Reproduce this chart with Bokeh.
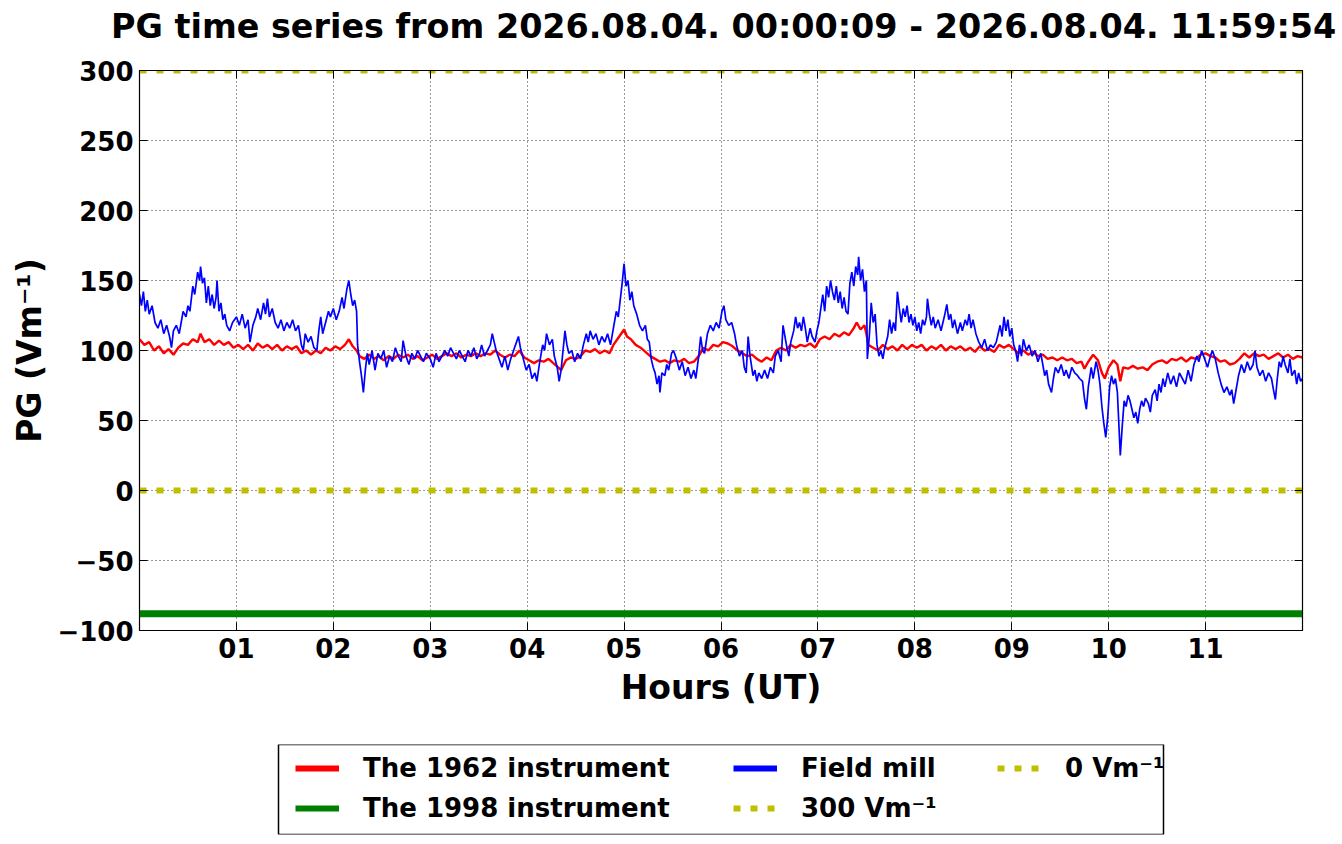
import numpy as np
from bokeh.plotting import figure
from bokeh.layouts import column
from bokeh.models import FixedTicker, Legend, LegendItem, Range1d, BoxAnnotation, LinearAxis, Div
from bokeh.embed import file_html
from bokeh.resources import INLINE

TITLE = "PG time series from 2026.08.04. 00:00:09 - 2026.08.04. 11:59:54"
X_LABEL = "Hours (UT)"
Y_LABEL = "PG (Vm\u207b\u00b9)"

x_ticks = [1, 2, 3, 4, 5, 6, 7, 8, 9, 10, 11]
x_tick_labels = ["01", "02", "03", "04", "05", "06", "07", "08", "09", "10", "11"]
y_ticks = [-100, -50, 0, 50, 100, 150, 200, 250, 300]
y_tick_labels = ["\u2212100", "\u221250", "0", "50", "100", "150", "200", "250", "300"]

series_names = ["The 1962 instrument", "The 1998 instrument", "Field mill",
                "300 Vm\u207b\u00b9", "0 Vm\u207b\u00b9"]

# Field mill (blue) : hours, PG values
fm_hours = [
    0.00, 0.02, 0.04, 0.06, 0.08, 0.10, 0.13, 0.16, 0.19, 0.22, 0.25, 0.28, 0.31, 0.33, 0.35, 0.38,
    0.41, 0.43, 0.45, 0.48, 0.50, 0.52, 0.55, 0.57, 0.60, 0.62, 0.63, 0.65, 0.67, 0.69, 0.71, 0.73,
    0.75, 0.77, 0.79, 0.80, 0.82, 0.84, 0.86, 0.88, 0.90, 0.93, 0.96, 1.00, 1.03, 1.06, 1.09, 1.12,
    1.14, 1.17, 1.20, 1.22, 1.25, 1.28, 1.30, 1.32, 1.34, 1.37, 1.40, 1.43, 1.46, 1.49, 1.52, 1.55,
    1.58, 1.61, 1.64, 1.67, 1.69, 1.71, 1.74, 1.77, 1.80, 1.83, 1.85, 1.87, 1.89, 1.92, 1.95, 1.97,
    2.00, 2.03, 2.06, 2.09, 2.11, 2.14, 2.16, 2.18, 2.20, 2.22, 2.24, 2.25, 2.27, 2.29, 2.31, 2.33,
    2.35, 2.37, 2.40, 2.43, 2.46, 2.49, 2.52, 2.55, 2.58, 2.61, 2.64, 2.67, 2.70, 2.72, 2.75, 2.78,
    2.81, 2.84, 2.87, 2.90, 2.93, 2.96, 3.00, 3.03, 3.06, 3.09, 3.12, 3.15, 3.18, 3.21, 3.24, 3.27,
    3.30, 3.33, 3.36, 3.39, 3.42, 3.45, 3.48, 3.51, 3.53, 3.56, 3.59, 3.62, 3.64, 3.66, 3.68, 3.71,
    3.74, 3.77, 3.80, 3.83, 3.86, 3.89, 3.91, 3.93, 3.96, 3.99, 4.02, 4.05, 4.08, 4.10, 4.13, 4.16,
    4.18, 4.20, 4.23, 4.26, 4.28, 4.31, 4.33, 4.35, 4.37, 4.39, 4.41, 4.43, 4.46, 4.49, 4.52, 4.55,
    4.58, 4.61, 4.63, 4.65, 4.68, 4.71, 4.74, 4.77, 4.80, 4.83, 4.86, 4.88, 4.90, 4.92, 4.94, 4.96,
    4.98, 5.00, 5.02, 5.04, 5.06, 5.08, 5.10, 5.13, 5.16, 5.19, 5.22, 5.24, 5.26, 5.28, 5.30, 5.32,
    5.34, 5.36, 5.37, 5.39, 5.42, 5.44, 5.46, 5.49, 5.51, 5.54, 5.57, 5.60, 5.63, 5.66, 5.69, 5.72,
    5.74, 5.77, 5.79, 5.81, 5.83, 5.86, 5.89, 5.92, 5.95, 5.98, 6.01, 6.03, 6.05, 6.08, 6.11, 6.14,
    6.16, 6.19, 6.22, 6.24, 6.26, 6.28, 6.30, 6.33, 6.35, 6.37, 6.39, 6.42, 6.45, 6.48, 6.51, 6.54,
    6.56, 6.59, 6.62, 6.64, 6.66, 6.68, 6.70, 6.72, 6.75, 6.77, 6.79, 6.81, 6.83, 6.85, 6.87, 6.89,
    6.92, 6.94, 6.97, 6.99, 7.01, 7.03, 7.05, 7.07, 7.09, 7.11, 7.13, 7.15, 7.17, 7.19, 7.21, 7.23,
    7.25, 7.27, 7.29, 7.31, 7.33, 7.35, 7.37, 7.39, 7.41, 7.42, 7.44, 7.46, 7.48, 7.50, 7.51, 7.53,
    7.55, 7.57, 7.59, 7.61, 7.63, 7.65, 7.67, 7.69, 7.72, 7.74, 7.76, 7.78, 7.80, 7.82, 7.84, 7.86,
    7.88, 7.90, 7.92, 7.94, 7.96, 7.98, 8.00, 8.02, 8.04, 8.06, 8.08, 8.10, 8.12, 8.13, 8.15, 8.17,
    8.19, 8.21, 8.24, 8.27, 8.29, 8.31, 8.33, 8.35, 8.37, 8.39, 8.41, 8.44, 8.47, 8.49, 8.52, 8.54,
    8.56, 8.58, 8.60, 8.63, 8.66, 8.69, 8.72, 8.75, 8.78, 8.81, 8.84, 8.86, 8.88, 8.90, 8.92, 8.94,
    8.96, 8.98, 9.00, 9.02, 9.04, 9.06, 9.08, 9.10, 9.12, 9.15, 9.18, 9.21, 9.24, 9.27, 9.30, 9.32,
    9.34, 9.36, 9.38, 9.41, 9.43, 9.45, 9.48, 9.51, 9.54, 9.56, 9.59, 9.62, 9.65, 9.68, 9.70, 9.73,
    9.75, 9.77, 9.79, 9.82, 9.84, 9.87, 9.89, 9.91, 9.93, 9.95, 9.97, 9.99, 10.01, 10.03, 10.05, 10.07,
    10.09, 10.11, 10.12, 10.14, 10.16, 10.18, 10.20, 10.22, 10.24, 10.26, 10.28, 10.30, 10.32, 10.34, 10.36, 10.38,
    10.41, 10.43, 10.45, 10.48, 10.50, 10.52, 10.54, 10.56, 10.58, 10.61, 10.64, 10.67, 10.70, 10.73, 10.76, 10.79,
    10.82, 10.85, 10.88, 10.91, 10.93, 10.96, 10.99, 11.02, 11.05, 11.07, 11.10, 11.13, 11.16, 11.19, 11.22, 11.25,
    11.27, 11.29, 11.31, 11.34, 11.37, 11.40, 11.43, 11.46, 11.49, 11.51, 11.53, 11.56, 11.59, 11.62, 11.65, 11.68,
    11.70, 11.72, 11.74, 11.76, 11.78, 11.80, 11.82, 11.85, 11.87, 11.89, 11.92, 11.94, 11.96, 11.98, 12.00,
]
fm_values = [
    140, 132, 142, 128, 136, 126, 132, 120, 116, 122, 112, 118, 110, 102, 114, 118,
    112, 120, 128, 124, 132, 128, 146, 140, 156, 150, 160, 148, 152, 134, 146, 132,
    140, 130, 138, 150, 128, 134, 122, 126, 118, 114, 120, 124, 118, 126, 116, 122,
    106, 118, 124, 130, 122, 134, 126, 137, 124, 130, 120, 116, 122, 114, 120, 116,
    122, 114, 118, 104, 100, 112, 106, 110, 102, 100, 114, 124, 112, 120, 128, 124,
    130, 122, 128, 138, 130, 144, 150, 140, 132, 136, 128, 104, 92, 82, 70, 86,
    98, 90, 100, 86, 98, 94, 100, 88, 96, 92, 102, 96, 92, 107, 96, 90,
    98, 94, 100, 96, 92, 98, 94, 88, 98, 92, 96, 100, 96, 102, 98, 94,
    100, 96, 92, 100, 96, 102, 94, 98, 104, 96, 100, 104, 112, 106, 100, 94,
    88, 96, 86, 94, 100, 106, 110, 102, 94, 86, 90, 80, 84, 78, 92, 104,
    100, 112, 104, 108, 96, 88, 78, 86, 100, 114, 104, 98, 100, 92, 98, 94,
    104, 112, 106, 114, 108, 112, 104, 110, 106, 112, 104, 112, 120, 128, 124, 136,
    148, 162, 146, 150, 136, 142, 132, 126, 118, 114, 118, 108, 106, 94, 88, 84,
    76, 82, 70, 84, 82, 90, 86, 98, 100, 94, 86, 92, 82, 88, 80, 86,
    80, 96, 110, 100, 98, 112, 118, 114, 120, 116, 128, 132, 122, 118, 120, 112,
    104, 96, 100, 88, 84, 110, 96, 82, 86, 78, 84, 80, 86, 80, 88, 84,
    96, 100, 92, 118, 110, 102, 96, 106, 114, 124, 116, 120, 114, 124, 116, 106,
    116, 110, 106, 114, 120, 130, 140, 128, 146, 138, 150, 142, 136, 146, 134, 142,
    130, 138, 128, 126, 148, 156, 146, 160, 154, 167, 150, 158, 142, 150, 94, 110,
    134, 120, 126, 104, 96, 100, 94, 102, 110, 122, 112, 120, 114, 142, 130, 120,
    130, 124, 132, 120, 126, 118, 124, 114, 120, 112, 122, 118, 124, 137, 126, 118,
    124, 116, 122, 114, 120, 126, 133, 122, 126, 116, 122, 112, 120, 114, 122, 118,
    126, 116, 122, 112, 106, 102, 108, 100, 104, 102, 106, 112, 118, 110, 124, 114,
    122, 110, 116, 104, 100, 92, 104, 96, 108, 100, 104, 96, 100, 92, 98, 90,
    82, 86, 76, 70, 80, 88, 84, 90, 82, 86, 80, 88, 84, 82, 80, 78,
    66, 58, 74, 88, 80, 92, 86, 76, 60, 48, 38, 52, 74, 82, 76, 80,
    70, 40, 25, 46, 64, 60, 68, 64, 58, 52, 56, 48, 58, 64, 60, 66,
    62, 56, 68, 72, 64, 76, 70, 80, 74, 84, 76, 82, 74, 84, 80, 76,
    86, 78, 90, 96, 92, 100, 94, 88, 96, 100, 94, 84, 76, 70, 74, 68,
    72, 62, 70, 82, 90, 84, 92, 86, 90, 100, 88, 82, 86, 78, 84, 80,
    72, 65, 80, 92, 88, 96, 90, 84, 94, 82, 86, 76, 84, 78, 80,
]

# The 1962 instrument (red) : hours, PG values
i1962_hours = [
    0.00, 0.05, 0.10, 0.15, 0.20, 0.25, 0.30, 0.35, 0.40, 0.45, 0.50, 0.55, 0.60, 0.63, 0.67, 0.72,
    0.77, 0.82, 0.87, 0.92, 0.97, 1.02, 1.07, 1.12, 1.17, 1.22, 1.27, 1.32, 1.37, 1.42, 1.47, 1.52,
    1.57, 1.62, 1.67, 1.72, 1.77, 1.82, 1.87, 1.92, 1.97, 2.02, 2.07, 2.12, 2.16, 2.20, 2.24, 2.27,
    2.32, 2.37, 2.42, 2.47, 2.52, 2.57, 2.62, 2.67, 2.72, 2.77, 2.82, 2.87, 2.92, 2.97, 3.02, 3.07,
    3.12, 3.17, 3.22, 3.27, 3.32, 3.37, 3.42, 3.47, 3.52, 3.57, 3.62, 3.67, 3.72, 3.77, 3.82, 3.87,
    3.92, 3.97, 4.02, 4.07, 4.12, 4.17, 4.22, 4.27, 4.32, 4.35, 4.40, 4.45, 4.50, 4.55, 4.60, 4.65,
    4.70, 4.75, 4.80, 4.85, 4.89, 4.93, 4.97, 5.00, 5.03, 5.07, 5.12, 5.17, 5.22, 5.27, 5.32, 5.37,
    5.42, 5.47, 5.52, 5.57, 5.62, 5.67, 5.72, 5.77, 5.82, 5.87, 5.92, 5.97, 6.02, 6.07, 6.12, 6.17,
    6.22, 6.27, 6.32, 6.37, 6.42, 6.47, 6.52, 6.57, 6.62, 6.67, 6.72, 6.77, 6.82, 6.87, 6.92, 6.97,
    7.02, 7.07, 7.12, 7.17, 7.22, 7.27, 7.32, 7.37, 7.40, 7.44, 7.48, 7.50, 7.52, 7.57, 7.62, 7.67,
    7.72, 7.77, 7.82, 7.87, 7.92, 7.97, 8.02, 8.07, 8.12, 8.17, 8.22, 8.27, 8.32, 8.37, 8.42, 8.47,
    8.52, 8.57, 8.62, 8.67, 8.72, 8.77, 8.82, 8.87, 8.92, 8.97, 9.02, 9.07, 9.12, 9.17, 9.22, 9.27,
    9.32, 9.37, 9.42, 9.47, 9.52, 9.57, 9.62, 9.67, 9.72, 9.75, 9.79, 9.84, 9.89, 9.93, 9.96, 10.00,
    10.05, 10.09, 10.12, 10.15, 10.20, 10.25, 10.30, 10.35, 10.40, 10.45, 10.50, 10.55, 10.60, 10.65, 10.70, 10.75,
    10.80, 10.85, 10.90, 10.95, 11.00, 11.05, 11.10, 11.15, 11.20, 11.25, 11.30, 11.35, 11.40, 11.45, 11.50, 11.55,
    11.60, 11.65, 11.70, 11.75, 11.80, 11.85, 11.90, 11.95, 12.00,
]
i1962_values = [
    108, 104, 106, 100, 103, 98, 101, 97, 102, 105, 104, 108, 106, 112, 106, 108,
    104, 107, 104, 106, 102, 104, 101, 104, 100, 105, 102, 104, 101, 104, 100, 103,
    101, 103, 98, 100, 97, 100, 98, 102, 100, 103, 101, 104, 108, 103, 100, 96,
    94, 97, 94, 96, 93, 96, 94, 97, 95, 97, 94, 96, 93, 95, 97, 94,
    96, 98, 96, 98, 95, 97, 96, 98, 96, 98, 97, 100, 97, 95, 97, 96,
    100, 95, 93, 91, 93, 92, 94, 91, 88, 86, 93, 95, 94, 96, 100, 99,
    101, 98, 100, 98, 104, 108, 112, 115, 110, 108, 104, 102, 99, 96, 94, 92,
    93, 91, 93, 92, 94, 91, 92, 96, 102, 100, 104, 103, 106, 105, 103, 100,
    98, 96, 97, 94, 92, 95, 93, 100, 102, 100, 104, 102, 104, 103, 105, 102,
    108, 110, 108, 112, 110, 113, 111, 116, 120, 115, 118, 112, 104, 102, 100, 104,
    101, 103, 100, 104, 101, 104, 102, 104, 100, 103, 101, 104, 100, 103, 101, 103,
    100, 102, 99, 103, 100, 101, 99, 104, 102, 104, 101, 98, 100, 97, 99, 96,
    97, 94, 95, 93, 95, 93, 94, 91, 92, 87, 92, 97, 93, 84, 80, 88,
    93, 90, 78, 88, 87, 89, 87, 88, 86, 90, 92, 93, 91, 94, 93, 95,
    92, 95, 94, 97, 98, 96, 95, 92, 93, 90, 91, 94, 98, 95, 98, 96,
    97, 94, 96, 98, 95, 97, 94, 96, 95,
]

# The 1998 instrument (constant level) and reference levels
i1998_level = -88
ref_300 = 300
ref_0 = 0

FONT = "DejaVu Sans"
RED, GREEN, BLUE, OLIVE = "#ff0000", "#008000", "#0000ff", "#bfbf00"

W = 1336
BL, BR = 139, W - 1302
TITLE_H = 58

title_div = Div(text=TITLE, width=W, height=TITLE_H,
                styles={"font-family": "'DejaVu Sans', sans-serif", "font-weight": "bold",
                        "font-size": "33.4px", "color": "black", "line-height": "40px",
                        "padding-top": "7px", "padding-left": "111px",
                        "white-space": "nowrap", "margin": "0"})

p = figure(width=W, height=682, output_backend="svg", toolbar_location=None,
           x_range=Range1d(0, 12), y_range=Range1d(-100, 300),
           min_border_left=BL, min_border_right=BR, min_border_top=12, min_border_bottom=110,
           background_fill_color="white", border_fill_color="white")
p.outline_line_color = "black"
p.outline_line_width = 1.2

t0 = min(fm_hours)
t1 = max(fm_hours)

p.line(i1962_hours, i1962_values, line_color=RED, line_width=2.4)
p.line(fm_hours, fm_values, line_color=BLUE, line_width=1.7)
p.line([t0, t1], [i1998_level, i1998_level], line_color=GREEN, line_width=7)
p.line([t0, t1], [ref_300, ref_300], line_color=OLIVE, line_width=6, line_dash="7 10")
p.line([t0, t1], [ref_0, ref_0], line_color=OLIVE, line_width=6, line_dash="7 10")

xt = FixedTicker(ticks=x_ticks)
yt = FixedTicker(ticks=y_ticks)
p.xaxis.ticker = xt
p.yaxis.ticker = yt
p.xaxis.major_label_overrides = {t: l for t, l in zip(x_ticks, x_tick_labels)}
p.yaxis.major_label_overrides = {t: l for t, l in zip(y_ticks, y_tick_labels)}

for ax in (p.xaxis[0], p.yaxis[0]):
    ax.major_label_text_font = FONT
    ax.major_label_text_font_size = "26px"
    ax.major_label_text_font_style = "bold"
    ax.major_label_text_color = "black"
    ax.axis_label_text_font = FONT
    ax.axis_label_text_font_size = "33px"
    ax.axis_label_text_font_style = "bold"
    ax.axis_label_text_color = "black"
    ax.major_tick_in = 8
    ax.major_tick_out = 0
    ax.minor_tick_in = 0
    ax.minor_tick_out = 0
    ax.axis_line_color = "black"
    ax.major_tick_line_color = "black"

p.xaxis.axis_label = X_LABEL
p.yaxis.axis_label = Y_LABEL
p.xaxis.major_label_standoff = 7
p.yaxis.major_label_standoff = 6
p.xaxis.axis_label_standoff = 7
p.yaxis.axis_label_standoff = 5

# mirrored tick marks on the top and right edges (labels not drawn)
for side, tk in (("above", xt), ("right", yt)):
    ax = LinearAxis(ticker=tk, major_label_text_color=None, major_label_text_font_size="1px",
                    major_tick_in=8, major_tick_out=0, minor_tick_in=0, minor_tick_out=0,
                    axis_line_color="black", major_tick_line_color="black",
                    major_label_standoff=0)
    p.add_layout(ax, side)

p.xgrid.ticker = xt
p.ygrid.ticker = yt
for g in (p.xgrid[0], p.ygrid[0]):
    g.grid_line_color = "black"
    g.grid_line_dash = "1 3"
    g.grid_line_width = 1
    g.grid_line_alpha = 0.8

# ---- legend panel ----
LEG_X, LEG_W, LEG_H = 278, 885, 90
q = figure(width=W, height=96, output_backend="svg", toolbar_location=None,
           x_range=Range1d(0, 1), y_range=Range1d(0, 1),
           x_axis_type=None, y_axis_type=None,
           min_border_left=BL, min_border_right=BR,
           min_border_top=4, min_border_bottom=96 - 4 - LEG_H,
           background_fill_color="white", border_fill_color="white")
q.outline_line_color = None

box_left = LEG_X - BL
q.add_layout(BoxAnnotation(left=box_left, right=box_left + LEG_W, bottom=0, top=LEG_H,
                           left_units="screen", right_units="screen",
                           bottom_units="screen", top_units="screen",
                           fill_alpha=0, line_color="black", line_width=1.5, line_alpha=1))

nan2 = np.array([np.nan, np.nan])
x2 = np.array([0.0, 1.0])
lp_red = q.line(x2, nan2, line_color=RED, line_width=6)
lp_green = q.line(x2, nan2, line_color=GREEN, line_width=6)
lp_blue = q.line(x2, nan2, line_color=BLUE, line_width=6)
lp_300 = q.line(x2, nan2, line_color=OLIVE, line_width=6, line_dash="7 10")
lp_0 = q.line(x2, nan2, line_color=OLIVE, line_width=6, line_dash="7 10")

def make_legend(items, loc):
    return Legend(
        items=items, location=loc, orientation="vertical",
        label_text_font=FONT, label_text_font_size="26px", label_text_font_style="bold",
        label_text_color="black",
        label_standoff=24, glyph_width=44, glyph_height=30, label_height=30,
        spacing=10, padding=0, margin=0,
        border_line_color=None, background_fill_alpha=0,
    )

two_row_bottom = 11
one_row_bottom = 51
q.add_layout(make_legend([LegendItem(label=series_names[0], renderers=[lp_red]),
                          LegendItem(label=series_names[1], renderers=[lp_green])],
                         (295 - BL, two_row_bottom)))
q.add_layout(make_legend([LegendItem(label=series_names[2], renderers=[lp_blue]),
                          LegendItem(label=series_names[3], renderers=[lp_300])],
                         (733 - BL, two_row_bottom)))
q.add_layout(make_legend([LegendItem(label=series_names[4], renderers=[lp_0])],
                         (997 - BL, one_row_bottom)))

layout = column(title_div, p, q, spacing=0)
open("out.html", "w").write(file_html(layout, INLINE))
